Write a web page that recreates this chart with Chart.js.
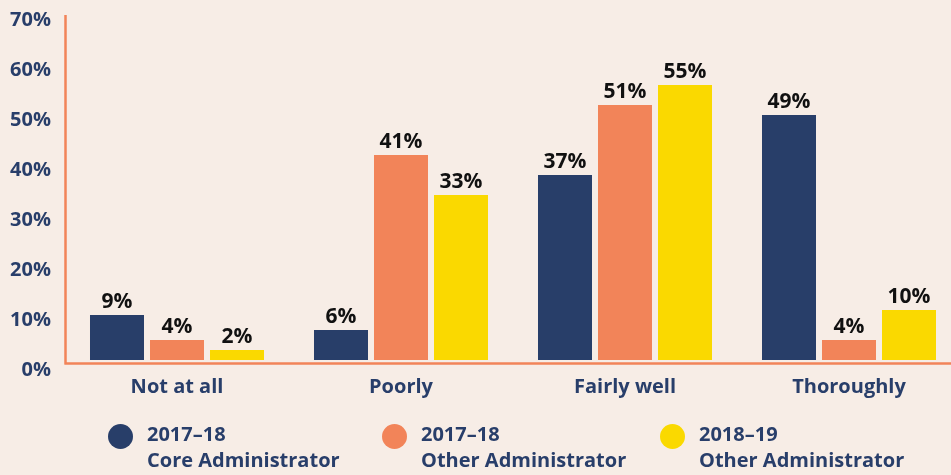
<!DOCTYPE html>
<html>
<head>
<meta charset="utf-8">
<script src="https://cdn.jsdelivr.net/npm/chart.js@4"></script>
<style>
  html, body { margin: 0; padding: 0; background: #f7ede6; overflow: hidden; width: 951px; height: 475px; }
  #wrap { position: absolute; left: 0; top: 0; width: 961px; height: 475px; }
  #legend { position: absolute; left: 0; top: 0; width: 951px; height: 475px; pointer-events: none; }
  .item { position: absolute; top: 421px; font-family: "Open Sans", sans-serif; font-weight: 700; font-size: 20px; line-height: 26px; color: #283e6a; white-space: nowrap; }
  .dot { position: absolute; width: 25px; height: 25px; border-radius: 50%; top: 3px; }
  .txt { position: absolute; top: 0; }
</style>
</head>
<body>
<div id="wrap"><canvas id="c"></canvas></div>
<div id="legend"></div>
<script>
const categories = ["Not at all", "Poorly", "Fairly well", "Thoroughly"];
const seriesNames = [["2017–18", "Core Administrator"], ["2017–18", "Other Administrator"], ["2018–19", "Other Administrator"]];
const coreAdmin1718 = [9, 6, 37, 49];
const otherAdmin1718 = [4, 41, 51, 4];
const otherAdmin1819 = [2, 33, 55, 10];
const yTicks = [0, 10, 20, 30, 40, 50, 60, 70];
const colors = ["#283e69", "#f28459", "#fad900"];

const navy = "#283e6a";
const axisColor = "#f28459";
const FONT = "'Open Sans', sans-serif";

const valueLabels = {
  id: "valueLabels",
  afterDatasetsDraw(chart) {
    const ctx = chart.ctx;
    ctx.save();
    ctx.font = "700 21px " + FONT;
    ctx.fillStyle = "#111111";
    ctx.textAlign = "center";
    ctx.textBaseline = "alphabetic";
    chart.data.datasets.forEach((ds, i) => {
      chart.getDatasetMeta(i).data.forEach((bar, j) => {
        ctx.fillText(ds.data[j] + "%", bar.x, bar.y - 7);
      });
    });
    ctx.restore();
  }
};

const axisLines = {
  id: "axisLines",
  beforeDatasetsDraw(chart) {
    const ctx = chart.ctx;
    const y = chart.scales.y;
    const a = chart.chartArea;
    ctx.save();
    ctx.strokeStyle = axisColor;
    ctx.lineWidth = 2.5;
    ctx.beginPath();
    ctx.moveTo(a.left + 0.5, y.getPixelForValue(69));
    ctx.lineTo(a.left + 0.5, a.bottom + 1);
    ctx.moveTo(a.left - 0.5, a.bottom);
    ctx.lineTo(chart.width, a.bottom);
    ctx.stroke();
    ctx.restore();
  }
};

const datasetsValues = [coreAdmin1718, otherAdmin1718, otherAdmin1819];

new Chart(document.getElementById("c"), {
  type: "bar",
  data: {
    labels: categories,
    datasets: datasetsValues.map((d, i) => ({
      label: seriesNames[i].join(" "),
      data: d,
      backgroundColor: colors[i],
      borderWidth: 0,
      categoryPercentage: 0.8036,
      barPercentage: 0.9
    }))
  },
  options: {
    responsive: true,
    maintainAspectRatio: false,
    animation: false,
    layout: { padding: { top: 10, left: 0, right: 0, bottom: 0 } },
    plugins: { legend: { display: false }, tooltip: { enabled: false } },
    scales: {
      x: {
        grid: { display: false, drawTicks: false },
        border: { display: false },
        ticks: { color: navy, font: { family: FONT, weight: "700", size: 20 }, padding: 12 },
        afterFit: s => { s.height = 475 - 363.5; s.paddingLeft = 0; s.paddingRight = 0; }
      },
      y: {
        min: -0.7,
        max: 70,
        grid: { display: false, drawTicks: false },
        border: { display: false },
        afterBuildTicks: s => { s.ticks = yTicks.map(v => ({ value: v })); },
        afterFit: s => { s.width = 65; s.paddingTop = 0; s.paddingBottom = 0; },
        ticks: {
          color: navy,
          font: { family: FONT, weight: "700", size: 20 },
          padding: 14,
          labelOffset: 10,
          callback: v => v + "%"
        }
      }
    }
  },
  plugins: [axisLines, valueLabels]
});

const legendX = [107.5, 381.5, 659.5];
const legend = document.getElementById("legend");
seriesNames.forEach((n, i) => {
  const it = document.createElement("div");
  it.className = "item";
  it.style.left = legendX[i] + "px";
  it.innerHTML = '<div class="dot" style="background:' + colors[i] + '"></div><div class="txt" style="left:39.5px">' + n[0] + '<br>' + n[1] + '</div>';
  legend.appendChild(it);
});
</script>
</body>
</html>
